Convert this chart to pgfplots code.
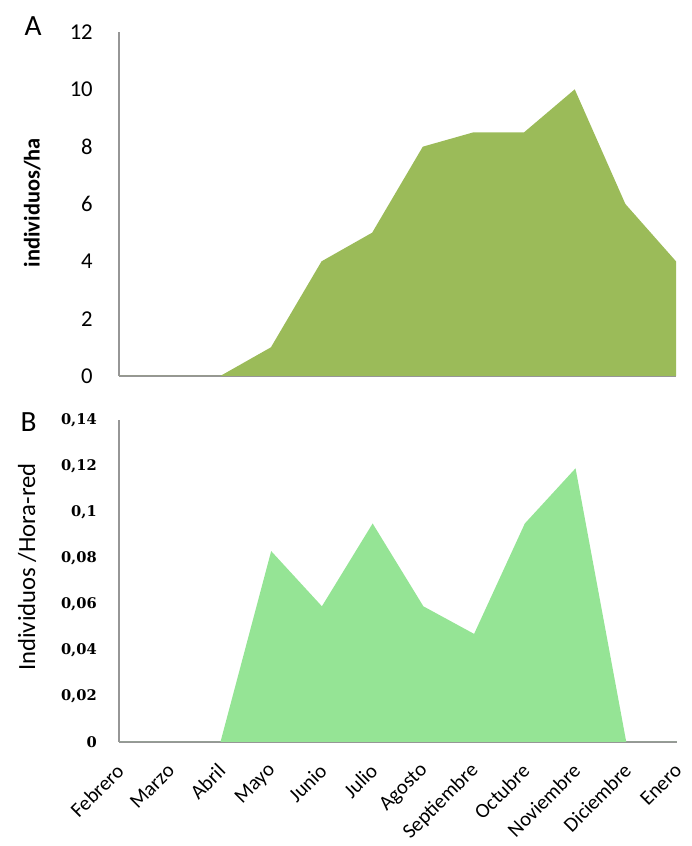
\documentclass[border=0pt]{standalone}
\usepackage{pgfplots}
\pgfplotsset{compat=1.18}
\usepackage{fontspec}
\setmainfont{Carlito}
\newfontfamily\serifb{DejaVu Serif}
\definecolor{topfill}{RGB}{155,187,89}
\definecolor{botfill}{RGB}{149,228,149}
\definecolor{axgray}{RGB}{150,150,150}
\begin{document}
\begin{tikzpicture}
\path[use as bounding box] (0,0) rectangle (519pt,634.5pt);
\pgfplotsset{
  myax/.style={
    anchor=south west, scale only axis,
    width=417.75pt,
    xmin=0, xmax=11, ymin=0,
    axis lines=left,
    axis line style={draw=axgray, line width=0.8pt, -},
    major tick length=0pt,
    clip=false,
    /pgf/number format/assume math mode=true,
  }
}
% Panel A
\begin{axis}[myax,
  at={(89.25pt,352.5pt)},
  height=258pt,
  ymax=12,
  ytick={0,2,4,6,8,10,12},
  xtick=\empty,
  yticklabel style={font=\fontsize{17}{17}\selectfont, anchor=east, inner sep=0pt, xshift=-19.5pt},
  ylabel={\textbf{individuos/ha}},
  ylabel style={font=\fontsize{16.8}{16.8}\selectfont, at={([xshift=-65pt,yshift=1pt]axis description cs:0,0.5)}, anchor=center},
]
\addplot[fill=topfill, draw=none] coordinates {
(0,0) (1,0) (2,0) (3,1) (4,4) (5,5) (6,8) (7,8.5) (8,8.5) (9,10) (10,6) (11,4)
} \closedcycle;
\end{axis}
% Panel B
\begin{axis}[myax,
  at={(89.25pt,78pt)},
  width=418.5pt,
  height=241.5pt,
  ymax=0.14,
  ytick={0,0.02,0.04,0.06,0.08,0.1,0.12,0.14},
  yticklabels={0,{0,02},{0,04},{0,06},{0,08},{0,1},{0,12},{0,14}},
  yticklabel style={font=\serifb\bfseries\fontsize{11}{11}\selectfont, anchor=east, inner sep=0pt, xshift=-16.5pt},
  xtick={0,1,2,3,4,5,6,7,8,9,10,11},
  xticklabels={Febrero,Marzo,Abril,Mayo,Junio,Julio,Agosto,Septiembre,Octubre,Noviembre,Diciembre,Enero},
  xticklabel style={font=\fontsize{15.5}{15.5}\selectfont, inner sep=0pt, yshift=-19pt, xshift=1pt, rotate=45, anchor=east},
  ylabel={Individuos /Hora-red},
  ylabel style={font=\fontsize{18.5}{18.5}\selectfont, at={([xshift=-69pt,yshift=10.5pt]axis description cs:0,0.5)}, anchor=center},
]
\addplot[fill=botfill, draw=none] coordinates {
(0,0) (1,0) (2,0) (3,0.083) (4,0.059) (5,0.095) (6,0.059) (7,0.047) (8,0.095) (9,0.119) (10,0) (11,0)
} \closedcycle;
\end{axis}
\node[font=\fontsize{22}{22}\selectfont, anchor=center] at (24.75pt,614.6pt) {A};
\node[font=\fontsize{22}{22}\selectfont, anchor=center] at (21.4pt,317.6pt) {B};
\end{tikzpicture}
\end{document}
